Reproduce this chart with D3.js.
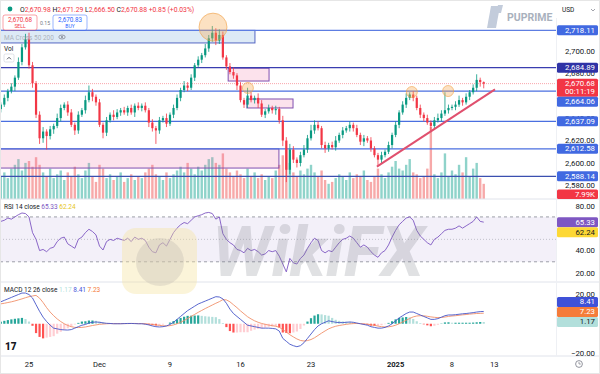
<!DOCTYPE html>
<html>
<head>
<meta charset="utf-8">
<script src="https://cdn.jsdelivr.net/npm/d3@7"></script>
<style>
  body { margin: 0; background: #fff; }
  svg { display: block; font-family: Roboto, "Noto Sans", sans-serif; }
</style>
</head>
<body>
<svg id="chart" width="600" height="374"></svg>
<script>
// XAUUSD 4 bars/day, Nov 21 2024 -> Jan 10 2025
const firstOpen = 2648;
const closes = [
  2652, 2658, 2664, 2668, 2676, 2690, 2703, 2710, 2687, 2671,
  2643, 2622, 2628, 2624, 2630, 2633, 2640, 2649, 2652, 2645,
  2634, 2629, 2643, 2647, 2656, 2663, 2659, 2654, 2634, 2627,
  2638, 2643, 2641, 2645, 2647, 2645, 2649, 2645, 2651, 2649,
  2651, 2647, 2636, 2631, 2629, 2638, 2640, 2635, 2643, 2649,
  2658, 2665, 2669, 2667, 2676, 2687, 2692, 2696, 2702, 2711,
  2716, 2709, 2714, 2694, 2686, 2681, 2678, 2669, 2656, 2652,
  2660, 2656, 2658, 2653, 2643, 2646, 2649, 2647, 2648, 2638,
  2620, 2594, 2612, 2603, 2600, 2607, 2612, 2622, 2629, 2634,
  2631, 2616, 2613, 2616, 2614, 2620, 2625, 2629, 2631, 2634,
  2631, 2625, 2619, 2622, 2620, 2613, 2607, 2603, 2607, 2610,
  2616, 2625, 2634, 2645, 2652, 2658, 2661, 2658, 2649, 2643,
  2640, 2636, 2633, 2638, 2640, 2644, 2647, 2649, 2650, 2652,
  2656, 2654, 2659, 2663, 2667, 2674, 2672, 2670.68
];
const wickUp = [
  2, 3, 2, 3, 2, 4, 3, 5, 6, 3,
  2, 3, 4, 2, 3, 2, 4, 3, 2, 3,
  3, 2, 3, 2, 4, 6, 3, 2, 3, 2,
  3, 2, 4, 3, 2, 3, 2, 3, 2, 3,
  2, 3, 2, 3, 2, 3, 2, 4, 2, 3,
  3, 2, 4, 3, 3, 2, 3, 2, 4, 3,
  6, 4, 5, 3, 2, 3, 4, 2, 3, 2,
  7, 3, 2, 4, 3, 2, 3, 2, 3, 2,
  4, 3, 5, 3, 2, 3, 4, 3, 5, 4,
  3, 2, 3, 2, 3, 4, 2, 3, 2, 3,
  2, 3, 2, 3, 2, 3, 2, 2, 3, 2,
  3, 2, 3, 2, 3, 4, 2, 3, 2, 3,
  2, 3, 2, 3, 4, 3, 16, 3, 2, 3,
  4, 2, 3, 2, 3, 5, 2, 0.6
];
const wickDown = [
  3, 2, 3, 2, 4, 2, 3, 2, 3, 4,
  3, 5, 4, 12, 3, 4, 2, 3, 2, 3,
  2, 4, 3, 2, 3, 2, 4, 3, 2, 5,
  3, 2, 3, 2, 3, 2, 3, 2, 4, 2,
  3, 2, 4, 3, 12, 3, 2, 3, 2, 3,
  2, 3, 2, 3, 2, 3, 2, 3, 2, 3,
  3, 4, 3, 2, 3, 2, 3, 4, 2, 3,
  3, 2, 3, 4, 2, 3, 2, 3, 4, 3,
  5, 11, 4, 3, 4, 3, 2, 3, 2, 3,
  2, 3, 4, 3, 2, 3, 2, 3, 2, 3,
  3, 2, 3, 4, 2, 3, 2, 5, 3, 2,
  2, 3, 2, 3, 2, 3, 2, 3, 2, 3,
  3, 2, 5, 3, 2, 3, 2, 3, 2, 3,
  2, 3, 2, 3, 2, 3, 4, 4.2
];
// volume in thousands
const volumes = [
  12, 14, 11, 16, 18, 21, 15, 19, 20, 17,
  22, 18, 14, 12, 16, 11, 13, 15, 10, 14,
  12, 17, 13, 11, 15, 19, 12, 9, 18, 16,
  11, 13, 10, 12, 14, 9, 11, 13, 10, 12,
  11, 14, 16, 18, 13, 12, 10, 14, 11, 13,
  15, 17, 14, 19, 16, 13, 17, 15, 18, 21,
  22, 19, 18, 24, 16, 14, 12, 15, 13, 11,
  16, 12, 14, 11, 13, 10, 12, 11, 15, 18,
  23, 26, 19, 14, 12, 15, 13, 16, 18, 14,
  12, 15, 10, 8, 9, 11, 13, 12, 10, 14,
  11, 13, 12, 15, 10, 9, 12, 16, 13, 11,
  14, 17, 20, 16, 15, 18, 21, 14, 13, 11,
  12, 16, 38, 13, 11, 14, 24, 12, 15, 13,
  18, 14, 22, 12, 16, 19, 11, 7.99
];
const rsi = [
  66, 67, 69, 68, 70, 72, 73.5, 73, 70, 56,
  50, 40, 41, 39, 42, 43, 48, 51, 52, 46,
  44, 42, 50, 52, 56, 59, 57, 54, 44, 40.5,
  48, 50, 49, 51, 50, 49, 51, 48, 52, 50,
  51, 49, 43, 39, 38, 45, 47, 44, 50, 56,
  60, 63, 65, 64, 67, 70, 71, 72, 73.5, 74,
  73, 68, 70, 55, 50, 47, 45, 41, 40, 38,
  42, 40, 41, 39, 36, 37, 40, 39, 40, 35,
  28, 21, 33, 29, 28, 33, 36, 42, 47, 51,
  49, 40, 38, 40, 39, 43, 47, 50, 51, 53,
  51, 47, 43, 45, 43, 39, 36, 34, 38, 40,
  45, 52, 58, 63, 66, 69, 70, 67, 58, 53,
  50, 47, 45, 50, 52, 55, 58, 59, 59, 60,
  62, 60, 62, 64, 66, 70, 66, 65.33
];
const macd = [
  15, 16, 17, 18, 19, 20, 21, 21, 20, 17.6,
  13, 8.5, 4.5, 1.5, -1, -3, -3.5, -4, -4.2, -4.3,
  -4, -3, -2, -1, -0.5, 0.5, 1, 1.2, 1, 0.6,
  0.3, 0.2, 0, 0, 0, 0.1, 0.2, 0.2, 0.1, 0,
  0, -0.3, -0.8, -1.5, -2, -2.2, -2, -1.5, -0.5, 1,
  3, 5, 7, 9, 10.5, 12, 13.5, 14.5, 15.5, 16.5,
  17.5, 18.5, 18.3, 17, 14, 10, 7, 5, 3, 1,
  -1, -1.5, -2, -2.5, -3, -3, -3, -3.2, -3.5, -5,
  -10, -12, -14, -15, -15.7, -15, -13, -10, -7, -4,
  -1.5, 0, 1, 2, 1.5, 1, 0.8, 0.8, 1, 1.2,
  1, 0.5, 0, -0.5, -1, -2, -2.5, -3, -3, -2.5,
  -1.5, 0, 2, 4, 5.5, 7, 8, 8, 7, 6,
  5, 4, 3, 3, 3.5, 4.5, 5.5, 6, 6, 6.2,
  6.5, 6.8, 7, 7.3, 7.6, 8, 8.3, 8.41
];
const signal = [
  13.6, 14, 14.5, 15, 15.6, 16.3, 17, 17.8, 18.5, 19,
  19.4, 17.5, 14.5, 11, 8, 5.5, 3.3, 1.5, 0, -1.2,
  -2, -2.5, -2.6, -2.5, -2.2, -1.7, -1.2, -0.8, -0.4, -0.2,
  0, 0.1, 0.1, 0.1, 0.1, 0.1, 0.1, 0.2, 0.2, 0.1,
  0.1, 0, -0.2, -0.5, -0.8, -1.1, -1.4, -1.5, -1.3, -0.8,
  0, 1, 2.2, 3.6, 5, 6.4, 7.8, 9.1, 10.4, 11.6,
  12.8, 14, 15.1, 16.5, 16.3, 15, 13, 11, 8.8, 6.8,
  4.8, 3.3, 2, 1, 0.2, -0.4, -0.9, -1.3, -1.7, -2.4,
  -4, -5.7, -7.5, -9, -10.4, -11.4, -11.8, -11.5, -10.8, -9.6,
  -8, -6.4, -4.9, -3.5, -2.5, -1.7, -1.2, -0.8, -0.4, -0.1,
  0.1, 0.2, 0.1, -0.1, -0.3, -0.7, -1.1, -1.6, -2, -2.2,
  -2.1, -1.7, -1, 0, 1.2, 2.4, 3.6, 4.7, 5.3, 5.5,
  5.4, 5.1, 4.7, 4.4, 4.2, 4.3, 4.6, 5, 5.3, 5.5,
  5.8, 6.1, 6.3, 6.6, 6.8, 7, 7.1, 7.23
];

const tickIndex = [8, 28, 48, 68, 88, 112, 128, 140];
const tickLabels = ["25", "Dec", "9", "16", "23", "2025", "8", "13"];
// axis ticks that are not fully covered by a value label
const priceTicks = [2580, 2600, 2620, 2640, 2680, 2700];
const rsiTicks = [20, 40, 80];
const macdTicks = [-20, 20];

// drawings (bar index / price)
const levels = [2718.11, 2684.89, 2664.06, 2637.09, 2612.58, 2588.14];
const levelColors = ["#5d7de2", "#3a3db0", "#4a6fe0", "#4a6fe0", "#4a6fe0", "#3b4fb0"];
const zones = [
  [-2, 72.1, 2718.11, 2706.9],
  [64.5, 76.1, 2684.4, 2673],
  [69.8, 82.9, 2657, 2649],
  [-2, 78.9, 2612.58, 2595.5]
];
const markers = [[60.2, 2721], [70.1, 2666.8], [116.6, 2663.2], [126.9, 2664.1]];
const trend = [[106.7, 2596.7], [140.2, 2665.6]];

const PLOT_R = 556;
const svg = d3.select("#chart");
const x = d3.scaleLinear().domain([8, 128]).range([29, 452]);
const yPrice = d3.scaleLinear().domain([2600, 2700]).range([163, 50.7]);
const yVol = d3.scaleLinear().domain([0, 50]).range([199, 104]);
const yRsi = d3.scaleLinear().domain([20, 80]).range([273, 205.7]);
const yMacd = d3.scaleLinear().domain([-20, 20]).range([353, 294.5]);

const bars = closes.map((c, i) => {
  const o = i === 0 ? firstOpen : closes[i - 1];
  return { i, o, c, h: Math.max(o, c) + wickUp[i], l: Math.min(o, c) - wickDown[i], v: volumes[i] };
});
const UP = "#089981", DOWN = "#f23645";

const defs = svg.append("defs");
[["clipPrice", 0, 199], ["clipRsi", 199, 83], ["clipMacd", 282, 74]].forEach(([id, y0, h]) => {
  defs.append("clipPath").attr("id", id).append("rect")
    .attr("x", 0).attr("y", y0).attr("width", PLOT_R).attr("height", h);
});

svg.append("rect").attr("width", 600).attr("height", 374).attr("fill", "#fff");

// ---------- price pane ----------
const pg = svg.append("g").attr("clip-path", "url(#clipPrice)");

pg.selectAll(".vol").data(bars).join("rect")
  .attr("x", d => x(d.i) - 1.2)
  .attr("width", 2.4)
  .attr("y", d => yVol(d.v))
  .attr("height", d => yVol(0) - yVol(d.v))
  .attr("fill", d => d.c >= d.o ? "#8fd3ca" : "#f7a9a9");

pg.selectAll(".zone").data(zones).join("rect")
  .attr("x", d => x(d[0]))
  .attr("y", d => yPrice(d[2]))
  .attr("width", d => x(d[1]) - x(d[0]))
  .attr("height", d => yPrice(d[3]) - yPrice(d[2]))
  .attr("fill", (d, i) => i === 0 ? "rgba(120,170,220,0.25)" : "rgba(240,110,160,0.2)")
  .attr("stroke", (d, i) => i === 0 ? "#5566c4" : "#8050b0")
  .attr("stroke-width", 1);

pg.selectAll(".level").data(levels).join("line")
  .attr("x1", 0).attr("x2", PLOT_R)
  .attr("y1", d => yPrice(d)).attr("y2", d => yPrice(d))
  .attr("stroke", (d, i) => levelColors[i])
  .attr("stroke-width", 1.3);

pg.append("line")
  .attr("x1", 0).attr("x2", PLOT_R)
  .attr("y1", yPrice(2670.68)).attr("y2", yPrice(2670.68))
  .attr("stroke", DOWN).attr("stroke-opacity", 0.45)
  .attr("stroke-dasharray", "1,1");

const candle = pg.selectAll(".candle").data(bars).join("g");
candle.append("line")
  .attr("x1", d => x(d.i)).attr("x2", d => x(d.i))
  .attr("y1", d => yPrice(d.h)).attr("y2", d => yPrice(d.l))
  .attr("stroke", d => d.c >= d.o ? UP : DOWN)
  .attr("stroke-width", 0.8);
candle.append("rect")
  .attr("x", d => x(d.i) - 1.1)
  .attr("width", 2.2)
  .attr("y", d => yPrice(Math.max(d.o, d.c)))
  .attr("height", d => Math.max(0.8, Math.abs(yPrice(d.o) - yPrice(d.c))))
  .attr("fill", d => d.c >= d.o ? UP : DOWN);

pg.append("line")
  .attr("x1", x(trend[0][0])).attr("y1", yPrice(trend[0][1]))
  .attr("x2", x(trend[1][0])).attr("y2", yPrice(trend[1][1]))
  .attr("stroke", "#e0506e").attr("stroke-width", 2);

pg.selectAll(".marker").data(markers).join("circle")
  .attr("cx", d => x(d[0])).attr("cy", d => yPrice(d[1]))
  .attr("r", (d, i) => i === 0 ? 14 : 5.5)
  .attr("fill", "rgba(245,170,80,0.35)")
  .attr("stroke", "rgba(240,160,70,0.6)");

// ---------- RSI pane ----------
const rg = svg.append("g").attr("clip-path", "url(#clipRsi)");
rg.append("rect")
  .attr("x", 0).attr("width", PLOT_R)
  .attr("y", yRsi(70)).attr("height", yRsi(30) - yRsi(70))
  .attr("fill", "rgba(126,87,194,0.09)");
[[70, "3,3", 0.7], [50, "1,2", 0.4], [30, "3,3", 0.7]].forEach(([v, dash, op]) => {
  rg.append("line")
    .attr("x1", 0).attr("x2", PLOT_R)
    .attr("y1", yRsi(v)).attr("y2", yRsi(v))
    .attr("stroke", "#787b86").attr("stroke-opacity", op)
    .attr("stroke-dasharray", dash);
});
rg.append("path")
  .datum(rsi)
  .attr("fill", "none")
  .attr("stroke", "#7e57c2")
  .attr("stroke-width", 0.9)
  .attr("d", d3.line().x((d, i) => x(i)).y(d => yRsi(d)));

// ---------- MACD pane ----------
const mg = svg.append("g").attr("clip-path", "url(#clipMacd)");
const hist = macd.map((m, i) => m - signal[i]);
mg.selectAll(".hist").data(hist).join("rect")
  .attr("x", (d, i) => x(i) - 1.1)
  .attr("width", 2.2)
  .attr("y", d => yMacd(Math.max(0, d)))
  .attr("height", d => Math.abs(yMacd(d) - yMacd(0)))
  .attr("fill", (d, i) => {
    const prev = i === 0 ? d : hist[i - 1];
    if (d >= 0) return d >= prev ? "#26a69a" : "#b2dfdb";
    return d < prev ? "#ff5252" : "#ffcdd2";
  });
mg.append("path").datum(signal)
  .attr("fill", "none").attr("stroke", "#f0906a").attr("stroke-width", 0.9)
  .attr("d", d3.line().x((d, i) => x(i)).y(d => yMacd(d)));
mg.append("path").datum(macd)
  .attr("fill", "none").attr("stroke", "#4656c8").attr("stroke-width", 0.9)
  .attr("d", d3.line().x((d, i) => x(i)).y(d => yMacd(d)));

// ---------- pane separators ----------
[199, 282, 356].forEach(y => {
  svg.append("line").attr("x1", 0).attr("x2", 600).attr("y1", y).attr("y2", y)
    .attr("stroke", "#e0e3eb");
});
svg.append("line").attr("x1", PLOT_R + 0.5).attr("x2", PLOT_R + 0.5).attr("y1", 18).attr("y2", 356)
  .attr("stroke", "#eef0f4");

// ---------- right axis ----------
const axisText = (y, txt) => svg.append("text")
  .attr("x", 595).attr("y", y + 2.8)
  .attr("text-anchor", "end")
  .attr("font-size", 7.8).attr("fill", "#131722")
  .text(txt);
priceTicks.forEach(p => axisText(yPrice(p), d3.format(",.2f")(p)));
rsiTicks.forEach(v => axisText(yRsi(v), d3.format(".2f")(v)));
macdTicks.forEach(v => axisText(yMacd(v), d3.format(".2f")(v).replace("-", "\u2212")));

function stack(labels, dir) {
  if (dir === "down") {
    let prev = -Infinity;
    labels.sort((a, b) => a.y - b.y).forEach(l => {
      l.top = Math.max(l.y - 5, prev);
      prev = l.top + l.h;
    });
  } else {
    let prev = Infinity;
    labels.sort((a, b) => b.y - a.y).forEach(l => {
      l.top = Math.min(l.y - 5 + l.h, prev) - l.h;
      prev = l.top;
    });
  }
  return labels;
}
function drawLabels(labels) {
  labels.forEach(l => {
    svg.append("rect")
      .attr("x", 557).attr("y", l.top).attr("width", 41).attr("height", l.h)
      .attr("rx", 1.5).attr("fill", l.bg);
    l.lines.forEach((t, k) => {
      svg.append("text")
        .attr("x", 595).attr("y", l.top + 7.4 + k * 8)
        .attr("text-anchor", "end")
        .attr("font-size", 7.8).attr("fill", l.fg || "#fff")
        .text(t);
    });
  });
}
const fmt = d3.format(",.2f");
const priceLabels = levels.map((p, i) => ({ y: yPrice(p), h: 10, bg: i === 1 ? "#2f33a6" : "#4169e1", lines: [fmt(p)] }));
priceLabels.push({ y: yPrice(2670.68), h: 18, bg: "#f23645", lines: [fmt(2670.68), "00:11:19"] });
drawLabels(stack(priceLabels, "down"));
drawLabels([{ top: 189.5, h: 9.5, bg: "#f23645", lines: ["7.99K"] }]);
drawLabels(stack([
  { y: yRsi(65.33), h: 10, bg: "#7e57c2", lines: ["65.33"] },
  { y: yRsi(62.24), h: 10, bg: "#fdd835", fg: "#131722", lines: ["62.24"] }
], "down"));
drawLabels(stack([
  { y: yMacd(8.41), h: 10, bg: "#3f51d8", lines: ["8.41"] },
  { y: yMacd(7.23), h: 10, bg: "#f57c3a", lines: ["7.23"] },
  { y: yMacd(1.17), h: 10, bg: "#b2dfdb", fg: "#131722", lines: ["1.17"] }
], "up"));

// ---------- time axis ----------
tickIndex.forEach((t, k) => {
  svg.append("text")
    .attr("x", x(t)).attr("y", 367)
    .attr("text-anchor", "middle")
    .attr("font-size", 7.6)
    .attr("font-weight", tickLabels[k] === "2025" ? "bold" : "normal")
    .attr("fill", "#131722")
    .text(tickLabels[k]);
});
const clock = svg.append("g").attr("transform", "translate(579,364)");
clock.append("circle").attr("r", 3.4).attr("fill", "none").attr("stroke", "#787b86").attr("stroke-width", 0.8);
clock.append("path").attr("d", "M0,-2V0H1.8").attr("fill", "none").attr("stroke", "#787b86").attr("stroke-width", 0.7);

// ---------- legends ----------
svg.append("circle").attr("cx", 10).attr("cy", 9).attr("r", 2.4).attr("fill", "#089981");
const hdr = svg.append("text").attr("x", 20).attr("y", 11.5).attr("font-size", 6.8);
[["O", "2,670.98"], ["H", "2,671.29"], ["L", "2,666.50"], ["C", "2,670.88"]].forEach(([k, v]) => {
  hdr.append("tspan").attr("fill", "#131722").text(k);
  hdr.append("tspan").attr("fill", DOWN).text(v + " ");
});
hdr.append("tspan").attr("fill", DOWN).text("+0.85 (+0.03%)");

[["2,670.68", "SELL", 3, DOWN], ["2,670.83", "BUY", 53, "#2962ff"]].forEach(([p, s, x0, c]) => {
  svg.append("rect").attr("x", x0).attr("y", 15).attr("width", 34).attr("height", 15)
    .attr("rx", 2).attr("fill", "#fff").attr("stroke", c).attr("stroke-opacity", 0.6).attr("stroke-width", 0.8);
  svg.append("text").attr("x", x0 + 17).attr("y", 22).attr("text-anchor", "middle")
    .attr("font-size", 6.3).attr("fill", c).text(p);
  svg.append("text").attr("x", x0 + 17).attr("y", 28.3).attr("text-anchor", "middle")
    .attr("font-size", 5).attr("fill", c).text(s);
});
svg.append("text").attr("x", 45).attr("y", 24.5).attr("text-anchor", "middle")
  .attr("font-size", 5.2).attr("fill", "#787b86").text("0.15");

svg.append("text").attr("x", 4).attr("y", 39.5).attr("font-size", 6.5)
  .attr("fill", "#9598a1").attr("fill-opacity", 0.7).text("MA Cross 50 200");
svg.append("ellipse").attr("cx", 62).attr("cy", 37).attr("rx", 3.2).attr("ry", 2)
  .attr("fill", "none").attr("stroke", "#787b86").attr("stroke-width", 0.7);
svg.append("circle").attr("cx", 62).attr("cy", 37).attr("r", 0.9).attr("fill", "#787b86");

svg.append("text").attr("x", 4).attr("y", 50.5).attr("font-size", 6.5).attr("fill", "#131722").text("Vol");
svg.append("rect").attr("x", 4).attr("y", 54).attr("width", 10).attr("height", 8).attr("rx", 1.5)
  .attr("fill", "#fff").attr("stroke", "#d1d4dc").attr("stroke-width", 0.7);
svg.append("path").attr("d", "M7,59.3L9,57.3L11,59.3").attr("fill", "none").attr("stroke", "#131722").attr("stroke-width", 0.7);

const rsiLeg = svg.append("text").attr("x", 4).attr("y", 209).attr("font-size", 6.5);
rsiLeg.append("tspan").attr("fill", "#131722").text("RSI 14 close ");
rsiLeg.append("tspan").attr("fill", "#7e57c2").text("65.33 ");
rsiLeg.append("tspan").attr("fill", "#e6c619").text("62.24");

const macdLeg = svg.append("text").attr("x", 4).attr("y", 292).attr("font-size", 6.5);
macdLeg.append("tspan").attr("fill", "#131722").text("MACD 12 26 close ");
macdLeg.append("tspan").attr("fill", "#b2dfdb").text("1.17 ");
macdLeg.append("tspan").attr("fill", "#3f51d8").text("8.41 ");
macdLeg.append("tspan").attr("fill", "#f57c3a").text("7.23");

svg.append("text").attr("x", 5).attr("y", 350).attr("font-size", 10).attr("font-weight", 900)
  .attr("fill", "#131722").text("17");

// ---------- branding / watermarks ----------
svg.append("path").attr("d", "M487,28L491,6L500,6L496,28Z").attr("fill", "#c3ccdb");
svg.append("path").attr("d", "M496,13L498,5L503,5L501,13Z").attr("fill", "#c3ccdb");
svg.append("text").attr("x", 507).attr("y", 21).attr("font-size", 10.5).attr("font-weight", "bold")
  .attr("fill", "#a9b1bd").text("PUPRIME");
svg.append("rect").attr("x", 558).attr("y", 3).attr("width", 40).attr("height", 13).attr("fill", "#fff");
svg.append("text").attr("x", 562).attr("y", 12).attr("font-size", 6.5).attr("fill", "#131722").text("USD");
svg.append("path").attr("d", "M591,9L593,11L595,9").attr("fill", "none").attr("stroke", "#787b86").attr("stroke-width", 0.7);

const wm = svg.append("g").attr("pointer-events", "none");
wm.append("rect").attr("x", 122).attr("y", 228).attr("width", 75).attr("height", 66).attr("rx", 14)
  .attr("fill", "#f6e3a0").attr("fill-opacity", 0.4);
wm.append("circle").attr("cx", 160).attr("cy", 262).attr("r", 24)
  .attr("fill", "#b9b4ad").attr("fill-opacity", 0.3);
wm.append("text").attr("x", 212).attr("y", 276).attr("font-size", 70)
  .attr("font-weight", "bold").attr("font-style", "italic")
  .attr("fill", "#7d818a").attr("fill-opacity", 0.24).text("WikiFX");

svg.append("rect").attr("x", 0.5).attr("y", 0.5).attr("width", 599).attr("height", 373)
  .attr("fill", "none").attr("stroke", "#e6e6e6");
</script>
</body>
</html>
